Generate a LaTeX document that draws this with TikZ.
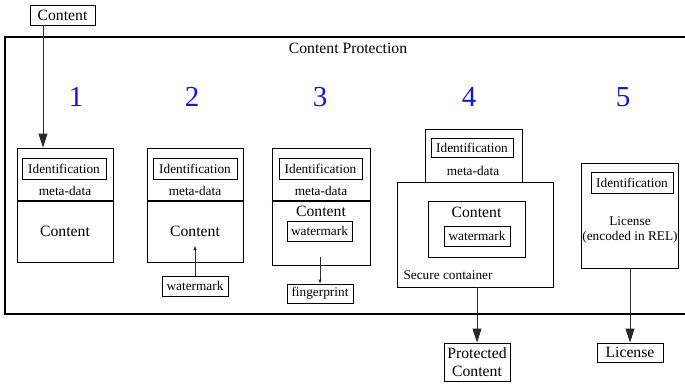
\documentclass[tikz,border=0pt]{standalone}
\usepackage{fontspec}
\setmainfont{Liberation Serif}
\usepackage{xcolor}
\definecolor{number-blue}{HTML}{1414E6}
\definecolor{line-grey}{HTML}{2A2A2A}
\usetikzlibrary{arrows.meta}

\tikzset{
    small/.style={font=\fontsize{13.3}{15}\selectfont},
    large/.style={font=\fontsize{15.7}{18}\selectfont},
    number/.style={font=\fontsize{29}{32}\selectfont, text=number-blue},
    shell/.style={draw, line width=0.9pt, inner sep=0pt},
    tag/.style={shell, small},
    bigarrow/.style={draw=line-grey, line width=0.9pt, -{Triangle[length=14pt,width=9pt]}},
    smallarrow/.style={draw=line-grey, line width=0.9pt, -{Triangle[length=4pt,width=3pt]}},
}

\begin{document}
\begin{tikzpicture}[x=1pt, y=-1pt]

    \useasboundingbox (0, 0) rectangle (685, 383);

    % Frame
    \draw[line width=2pt] (685, 37) -- (5, 37) -- (5, 314) -- (685, 314);
    \node[large] (title) at (348, 48) {Content Protection};

    % Numbers
    \node[number] (n1) at (76, 97) {1};
    \node[number] (n2) at (192, 97) {2};
    \node[number] (n3) at (320, 97) {3};
    \node[number] (n4) at (469, 97) {4};
    \node[number] (n5) at (623, 97) {5};

    % Input
    \node[tag, large, minimum width=65pt, minimum height=20pt] (src) at (62.5, 15) {Content};

    % Stage 1
    \node[shell, minimum width=96pt, minimum height=53pt] (meta1) at (65, 174.5) {};
    \node[shell, minimum width=96pt, minimum height=61pt] (cont1) at (65, 231.5) {};
    \draw[line width=2pt] (meta1.south west) -- (meta1.south east);
    \node[tag, minimum width=84pt, minimum height=21pt] (id1) at (64, 168.5) {Identification};
    \node[small] (md1) at (65, 191) {meta-data};
    \node[large] (ct1) at (65, 231) {Content};
    \draw[bigarrow] ([xshift=-19.5pt]src.south) -- ([xshift=-19.5pt]src.south |- meta1.north);

    % Stage 2
    \node[shell, minimum width=96pt, minimum height=53pt] (meta2) at (195, 174.5) {};
    \node[shell, minimum width=96pt, minimum height=61pt] (cont2) at (195, 231.5) {};
    \draw[line width=2pt] (meta2.south west) -- (meta2.south east);
    \node[tag, minimum width=84pt, minimum height=21pt] (id2) at (195, 168.5) {Identification};
    \node[small] (md2) at (195, 191) {meta-data};
    \node[large] (ct2) at (195, 231) {Content};
    \node[tag, minimum width=66pt, minimum height=20pt] (wm2) at (195, 286) {watermark};
    \draw[smallarrow] (wm2.north) -- ([yshift=-14.5pt]cont2.center);

    % Stage 3
    \node[shell, minimum width=98pt, minimum height=53pt] (meta3) at (321, 174.5) {};
    \node[shell, minimum width=98pt, minimum height=64pt] (cont3) at (321, 233) {};
    \draw[line width=2pt] (meta3.south west) -- (meta3.south east);
    \node[tag, minimum width=83pt, minimum height=21pt] (id3) at (320.5, 168.5) {Identification};
    \node[small] (md3) at (321, 191) {meta-data};
    \node[large] (ct3) at (321, 211) {Content};
    \node[tag, minimum width=65pt, minimum height=20pt] (wm3) at (319.5, 231) {watermark};
    \node[tag, minimum width=66pt, minimum height=19pt] (fp3) at (320, 293.5) {fingerprint};
    \draw[smallarrow] (fp3.north |- cont3.center) ++(0, 24) -- (fp3.north);

    % Stage 4
    \node[shell, minimum width=97pt, minimum height=53pt] (meta4) at (473.5, 155.5) {};
    \node[tag, minimum width=82pt, minimum height=19pt] (id4) at (472, 147.5) {Identification};
    \node[small] (md4) at (473, 171) {meta-data};
    \node[shell, fill=white, minimum width=156pt, minimum height=105pt] (sc4) at (475, 234.5) {};
    \node[shell, minimum width=97pt, minimum height=56pt] (box4) at (476.5, 229) {};
    \node[large] (ct4) at (476.5, 212) {Content};
    \node[tag, minimum width=66pt, minimum height=20pt] (wm4) at (477, 236) {watermark};
    \node[small, anchor=west] (sclabel) at (400, 275) {Secure container};
    \node[tag, large, align=center, minimum width=66pt, minimum height=38pt] (pc4) at (477, 362) {Protected\\Content};
    \draw[bigarrow] (pc4.north |- sc4.south) -- (pc4.north);

    % Stage 5
    \node[shell, minimum width=97pt, minimum height=105pt] (lic5) at (629.5, 215.5) {};
    \node[tag, minimum width=82pt, minimum height=21pt] (id5) at (632, 182.5) {Identification};
    \node[small, align=center] (rel5) at (630, 230) {License\\(encoded in REL)};
    \node[tag, large, minimum width=66pt, minimum height=19pt] (out5) at (630, 352.5) {License};
    \draw[bigarrow] (out5.north |- lic5.south) -- (out5.north);

\end{tikzpicture}
\end{document}
